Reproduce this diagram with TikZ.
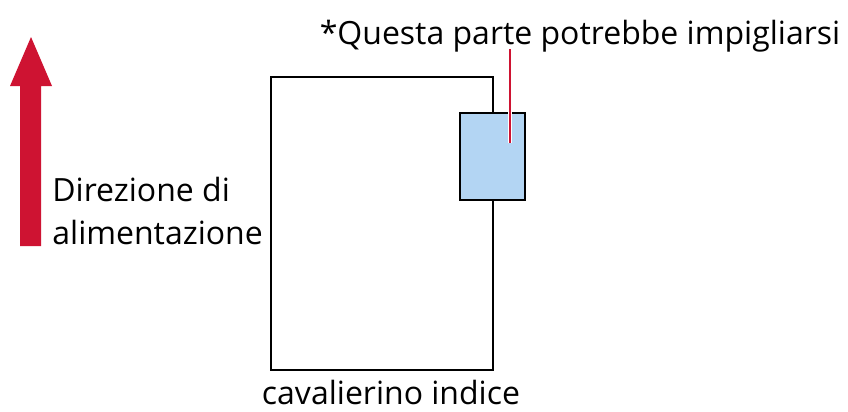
\documentclass[tikz,border=0pt]{standalone}
\usepackage{fontspec}
\setmainfont{Open Sans}
\usetikzlibrary{positioning}
\definecolor{feedred}{RGB}{206,19,50}
\definecolor{tabblue}{RGB}{179,213,243}
\begin{document}
\begin{tikzpicture}[x=0.5pt, y=-0.5pt, font=\fontsize{16}{21.5}\selectfont,
    sheet/.style={draw, line width=1.1pt, rectangle, minimum width=111pt, minimum height=146.5pt, inner sep=0pt},
    tabbox/.style={draw, line width=1.4pt, fill=tabblue, rectangle, minimum width=32.5pt, minimum height=43.5pt, inner sep=0pt},
    label/.style={inner sep=0pt, align=left}]

    \useasboundingbox (0,0) rectangle (848,412);

    % Feed arrow
    \fill[feedred] (20,246) -- (20,86) -- (10,86) -- (31,37) -- (52,86) -- (41,86) -- (41,246) -- cycle;

    % Nodes
    \node [sheet] (paper) at (382,223.5) {};
    \node [tabbox] (tab) at (492.5,156.5) {};
    \node [label, anchor=north west] (direction) at (52,177) {Direzione di\\alimentazione};
    \node [label, anchor=base] (note) at (580,45) {*Questa parte potrebbe impigliarsi};
    \node [label, below=4.5pt of paper, xshift=4.5pt] (name) {cavalierino indice};
    \coordinate (lead) at (510,49);
    \coordinate (snag) at (510,143);

    % Leader
    \draw[white, line width=2.2pt] ([yshift=-10pt]lead) -- (snag);
    \draw[feedred, line width=1.4pt] (lead) -- (snag);
\end{tikzpicture}
\end{document}
